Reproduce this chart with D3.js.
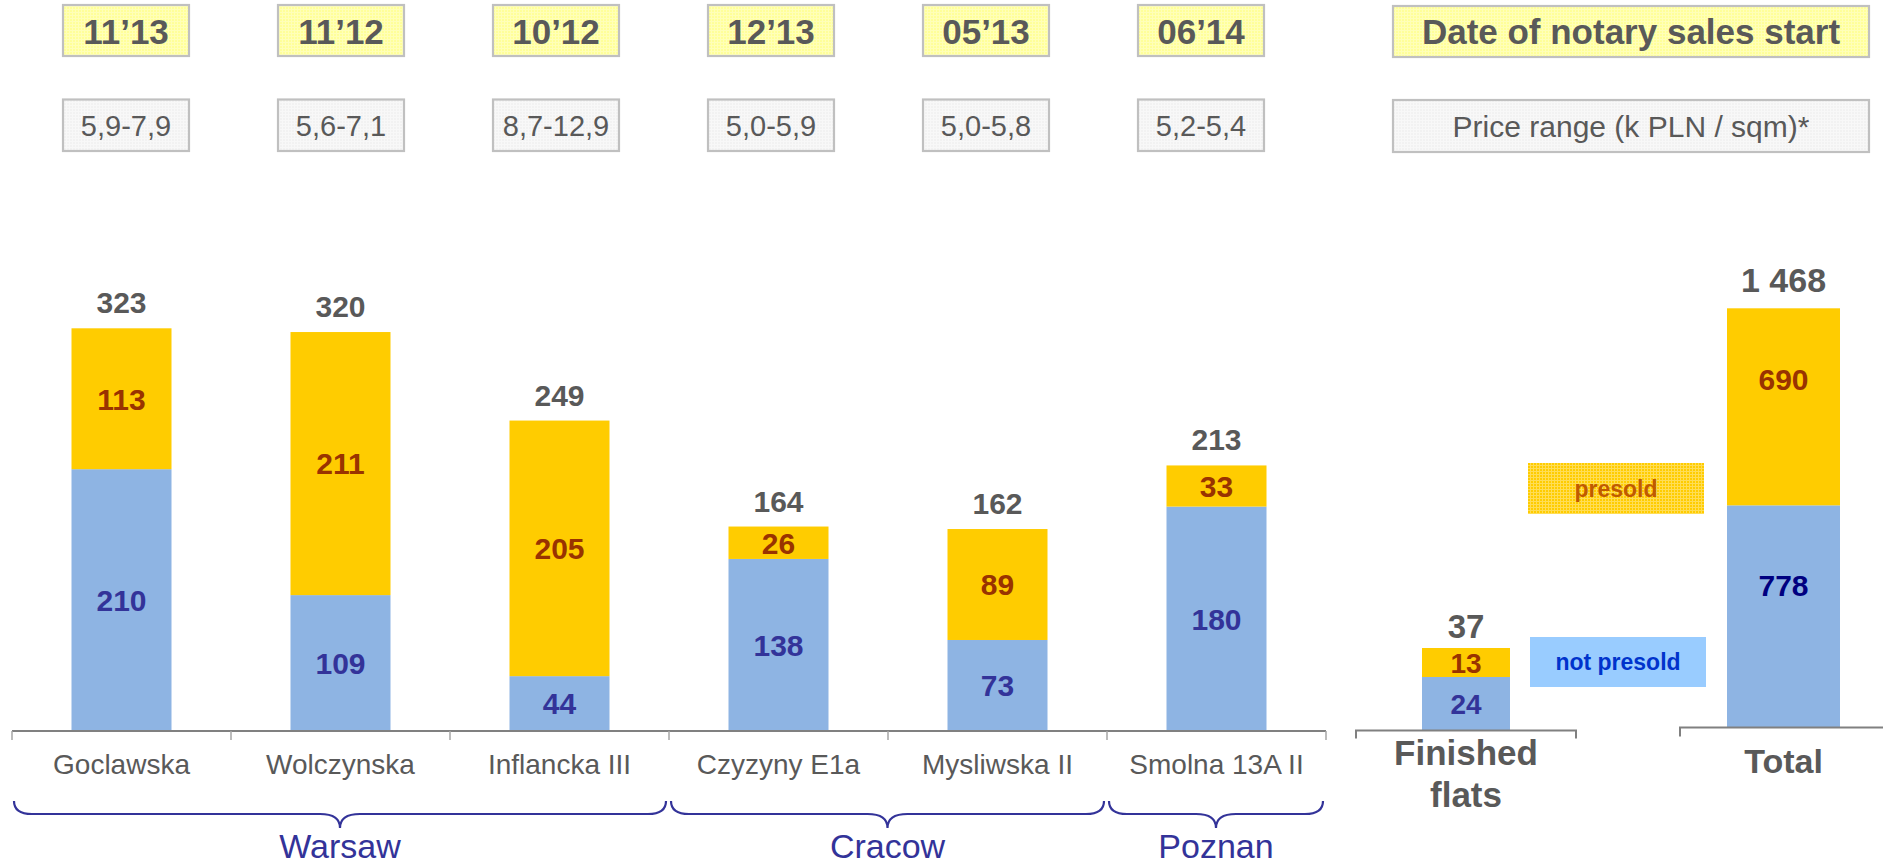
<!DOCTYPE html>
<html>
<head>
<meta charset="utf-8">
<script src="https://cdn.jsdelivr.net/npm/d3@7"></script>
<style>
  html, body { margin: 0; padding: 0; background: #ffffff; }
  svg { display: block; font-family: Arial, "Liberation Sans", Helvetica, sans-serif; }
</style>
</head>
<body>
<svg id="chart" width="1883" height="864"></svg>
<script>
// ---- data ----
const projects      = ["Goclawska", "Wolczynska", "Inflancka III", "Czyzyny E1a", "Mysliwska II", "Smolna 13A II"];
const notPresold    = [210, 109, 44, 138, 73, 180];
const presold       = [113, 211, 205, 26, 89, 33];
const projectTotals = [323, 320, 249, 164, 162, 213];
const salesStart    = ["11’13", "11’12", "10’12", "12’13", "05’13", "06’14"];
const priceRange    = ["5,9-7,9", "5,6-7,1", "8,7-12,9", "5,0-5,9", "5,0-5,8", "5,2-5,4"];
const cities        = ["Warsaw", "Cracow", "Poznan"];
const cityFirst     = ["Goclawska", "Czyzyny E1a", "Smolna 13A II"];
const cityLast      = ["Inflancka III", "Mysliwska II", "Smolna 13A II"];

const finishedNotPresold = [24];
const finishedPresold    = [13];
const finishedTotal      = [37];
const totalNotPresold    = [778];
const totalPresold       = [690];
const totalAll           = [1468];

const salesStartTitle = "Date of notary sales start";
const priceTitle      = "Price range (k PLN / sqm)*";
const legendLabels    = ["presold", "not presold"];

// ---- styles ----
const C = {
  blue: "#8EB4E3", yellow: "#FFCC00", gray: "#595959", axis: "#808080",
  presoldText: "#993300", notPresoldText: "#333399", navy: "#000080", city: "#333399"
};
const fmt = d3.formatLocale({ decimal: ",", thousands: " ", grouping: [3], currency: ["", ""] }).format(",d");

const svg = d3.select("#chart");
const defs = svg.append("defs");

// textured fills for the header boxes and the presold legend swatch
function gridPattern(id, base, line, step) {
  const p = defs.append("pattern").attr("id", id).attr("patternUnits", "userSpaceOnUse")
    .attr("width", step).attr("height", step);
  p.append("rect").attr("width", step).attr("height", step).attr("fill", base);
  p.append("path").attr("d", `M0,0.5H${step}M0.5,0V${step}`).attr("stroke", line).attr("stroke-width", 1);
}
gridPattern("texYellow", "#FFFF99", "#FFFFB8", 3);
gridPattern("texGray", "#F2F2F2", "#F8F8F8", 3);
gridPattern("texPresold", "#FFCC00", "#FFDD55", 3);

// ---- main panel scales ----
const x = d3.scaleBand().domain(projects).range([12, 1326]).paddingInner(0).paddingOuter(0);
const barW = 100;
const mainAxisY = 731;
const y = d3.scaleLinear().domain([0, 323]).range([mainAxisY, 328.3]);

const rows = projects.map((p, i) => ({ project: p, notPresold: notPresold[i], presold: presold[i], total: projectTotals[i] }));
const stack = d3.stack().keys(["notPresold", "presold"]);

function drawStacked(g, data, xs, ys, width, opts) {
  const series = stack(data);
  const cx = d => xs(d.data.key) + xs.bandwidth() / 2;
  series.forEach(s => {
    const isPresold = s.key === "presold";
    g.selectAll(null).data(s).join("rect")
      .attr("x", d => cx(d) - width / 2)
      .attr("width", width)
      .attr("y", d => ys(d[1]))
      .attr("height", d => ys(d[0]) - ys(d[1]))
      .attr("fill", isPresold ? C.yellow : C.blue);
    g.selectAll(null).data(s).join("text")
      .attr("x", d => cx(d))
      .attr("y", d => ys(d[1]) + (ys(d[0]) - ys(d[1])) * opts.labelFrac)
      .attr("dy", "0.36em")
      .attr("text-anchor", "middle")
      .attr("font-weight", "bold")
      .attr("font-size", opts.segSize)
      .attr("fill", isPresold ? C.presoldText : opts.blueText)
      .text(d => fmt(d.data[s.key]));
  });
  g.selectAll(null).data(data).join("text")
    .attr("x", d => xs(d.key) + xs.bandwidth() / 2)
    .attr("y", d => ys(d.total) - opts.totalGap)
    .attr("text-anchor", "middle")
    .attr("font-weight", "bold")
    .attr("font-size", opts.totalSize)
    .attr("fill", C.gray)
    .text(d => fmt(d.total));
}

// ---- main bars ----
const gMain = svg.append("g");
drawStacked(gMain, rows.map(r => ({ ...r, key: r.project })), x, y, barW,
  { labelFrac: 0.5, segSize: 30, totalSize: 30, totalGap: 15, blueText: C.notPresoldText });

// axis with ticks at band boundaries
const boundaries = projects.map(p => x(p)).concat([x.range()[1]]);
gMain.append("line").attr("x1", x.range()[0]).attr("x2", x.range()[1])
  .attr("y1", mainAxisY).attr("y2", mainAxisY).attr("stroke", C.axis).attr("stroke-width", 2);
gMain.selectAll(null).data(boundaries).join("line")
  .attr("x1", d => d).attr("x2", d => d).attr("y1", mainAxisY).attr("y2", mainAxisY + 9)
  .attr("stroke", "#A6A6A6").attr("stroke-width", 1.5);

gMain.selectAll(null).data(projects).join("text")
  .attr("x", d => x(d) + x.bandwidth() / 2).attr("y", 774)
  .attr("text-anchor", "middle").attr("font-size", 28).attr("fill", C.gray)
  .text(d => d);

// city braces
function bracePath(x0, x1, yTop, yMid, yTip) {
  const xc = (x0 + x1) / 2, r = 18, rc = 20;
  return `M${x0},${yTop} Q${x0},${yMid} ${x0 + r},${yMid} L${xc - rc},${yMid} Q${xc},${yMid} ${xc},${yTip}` +
         ` Q${xc},${yMid} ${xc + rc},${yMid} L${x1 - r},${yMid} Q${x1},${yMid} ${x1},${yTop}`;
}
cities.forEach((c, i) => {
  const x0 = x(cityFirst[i]) + 2, x1 = x(cityLast[i]) + x.bandwidth() - 3;
  gMain.append("path").attr("d", bracePath(x0, x1, 801, 814, 828))
    .attr("fill", "none").attr("stroke", C.city).attr("stroke-width", 2.2);
  gMain.append("text").attr("x", (x0 + x1) / 2).attr("y", 858)
    .attr("text-anchor", "middle").attr("font-size", 34).attr("fill", C.city).text(c);
});

// ---- header boxes ----
const hx = d3.scalePoint().domain(projects).range([126, 1201]);
const boxW = 126;
const gHead = svg.append("g");
gHead.selectAll(null).data(projects).join("rect")
  .attr("x", d => hx(d) - boxW / 2).attr("y", 5).attr("width", boxW).attr("height", 51)
  .attr("fill", "url(#texYellow)").attr("stroke", "#C0C0C0").attr("stroke-width", 2.2);
gHead.selectAll(null).data(projects).join("text")
  .attr("x", d => hx(d)).attr("y", 43.5).attr("text-anchor", "middle")
  .attr("font-weight", "bold").attr("font-size", 35).attr("fill", C.gray)
  .text((d, i) => salesStart[i]);
gHead.selectAll(null).data(projects).join("rect")
  .attr("x", d => hx(d) - boxW / 2).attr("y", 99.5).attr("width", boxW).attr("height", 51.5)
  .attr("fill", "url(#texGray)").attr("stroke", "#C0C0C0").attr("stroke-width", 2.2);
gHead.selectAll(null).data(projects).join("text")
  .attr("x", d => hx(d)).attr("y", 135.5).attr("text-anchor", "middle")
  .attr("font-size", 29).attr("fill", C.gray)
  .text((d, i) => priceRange[i]);

gHead.append("rect").attr("x", 1393).attr("y", 6).attr("width", 476).attr("height", 51)
  .attr("fill", "url(#texYellow)").attr("stroke", "#C0C0C0").attr("stroke-width", 2.2);
gHead.append("text").attr("x", 1631).attr("y", 44).attr("text-anchor", "middle")
  .attr("font-weight", "bold").attr("font-size", 35).attr("fill", C.gray).text(salesStartTitle);
gHead.append("rect").attr("x", 1393).attr("y", 100).attr("width", 476).attr("height", 52)
  .attr("fill", "url(#texGray)").attr("stroke", "#C0C0C0").attr("stroke-width", 2.2);
gHead.append("text").attr("x", 1631).attr("y", 136.5).attr("text-anchor", "middle")
  .attr("font-size", 30).attr("fill", C.gray).text(priceTitle);

// ---- finished flats panel ----
const finishedKey = "Finished flats";
const xf = d3.scaleBand().domain([finishedKey]).range([1356, 1576]);
const finishedAxisY = 730.5;
const yf = d3.scaleLinear().domain([0, 37]).range([finishedAxisY, 648]);
const gFin = svg.append("g");
drawStacked(gFin, [{ key: finishedKey, notPresold: finishedNotPresold[0], presold: finishedPresold[0], total: finishedTotal[0] }],
  xf, yf, 88, { labelFrac: 0.5, segSize: 28, totalSize: 33, totalGap: 10, blueText: C.notPresoldText });
gFin.append("path")
  .attr("d", `M${xf.range()[0]},${finishedAxisY + 8}V${finishedAxisY}H${xf.range()[1]}V${finishedAxisY + 8}`)
  .attr("fill", "none").attr("stroke", C.axis).attr("stroke-width", 2);
gFin.append("text").attr("x", xf(finishedKey) + xf.bandwidth() / 2).attr("y", 765)
  .attr("text-anchor", "middle").attr("font-weight", "bold").attr("font-size", 35).attr("fill", C.gray)
  .call(t => {
    t.append("tspan").attr("x", xf(finishedKey) + xf.bandwidth() / 2).text("Finished");
    t.append("tspan").attr("x", xf(finishedKey) + xf.bandwidth() / 2).attr("dy", 42).text("flats");
  });

// ---- total panel ----
const totalKey = "Total";
const xt = d3.scaleBand().domain([totalKey]).range([1680, 1887]);
const totalAxisY = 727.5;
const yt = d3.scaleLinear().domain([0, 1468]).range([totalAxisY, 308.3]);
const gTot = svg.append("g");
drawStacked(gTot, [{ key: totalKey, notPresold: totalNotPresold[0], presold: totalPresold[0], total: totalAll[0] }],
  xt, yt, 113, { labelFrac: 0.36, segSize: 30, totalSize: 34, totalGap: 16, blueText: C.navy });
gTot.append("path")
  .attr("d", `M${xt.range()[0]},${totalAxisY + 9}V${totalAxisY}H1883`)
  .attr("fill", "none").attr("stroke", C.axis).attr("stroke-width", 2);
gTot.append("text").attr("x", xt(totalKey) + xt.bandwidth() / 2).attr("y", 773)
  .attr("text-anchor", "middle").attr("font-weight", "bold").attr("font-size", 34).attr("fill", C.gray)
  .text(totalKey);

// ---- legend ----
const gLeg = svg.append("g");
gLeg.append("rect").attr("x", 1528).attr("y", 463).attr("width", 176).attr("height", 51)
  .attr("fill", "url(#texPresold)");
gLeg.append("text").attr("x", 1616).attr("y", 489).attr("dy", "0.36em").attr("text-anchor", "middle")
  .attr("font-weight", "bold").attr("font-size", 23).attr("fill", "#C05A00").text(legendLabels[0]);
gLeg.append("rect").attr("x", 1530).attr("y", 637).attr("width", 176).attr("height", 50)
  .attr("fill", "#99CCFF");
gLeg.append("text").attr("x", 1618).attr("y", 662).attr("dy", "0.36em").attr("text-anchor", "middle")
  .attr("font-weight", "bold").attr("font-size", 23).attr("fill", "#0033CC").text(legendLabels[1]);
</script>
</body>
</html>
